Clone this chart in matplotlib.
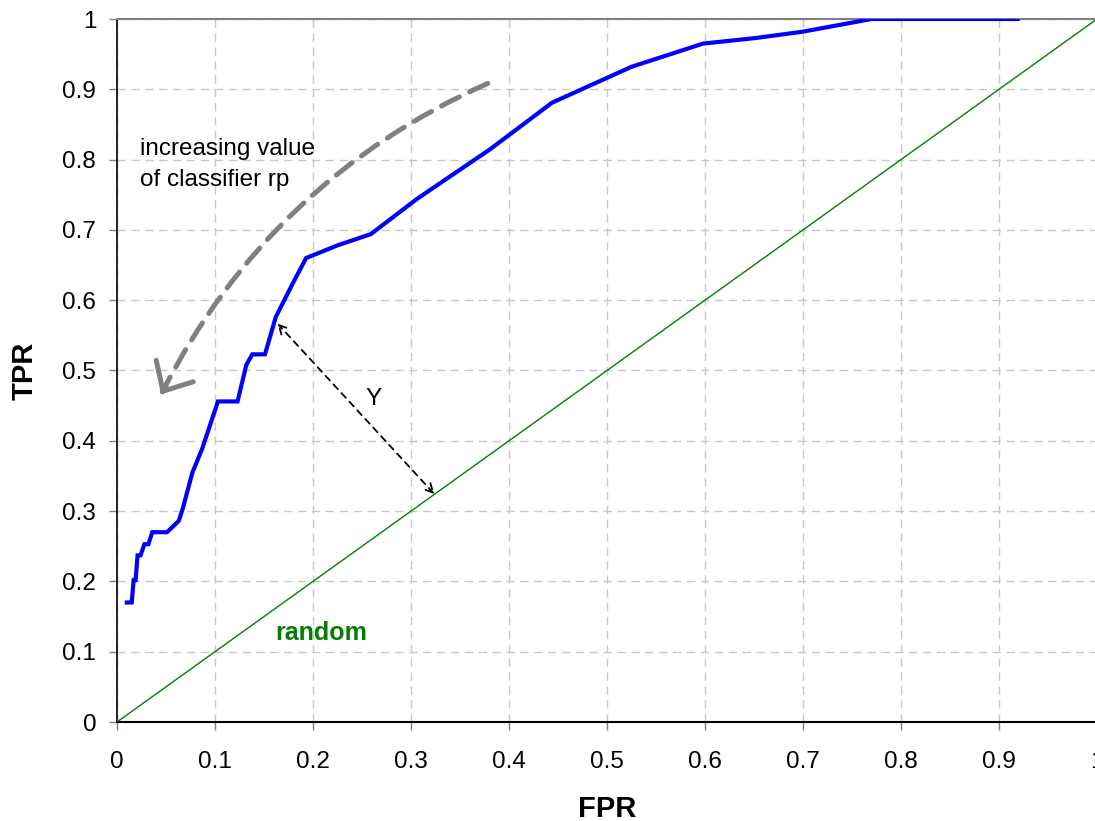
import matplotlib.pyplot as plt
from matplotlib.patches import FancyArrowPatch

plt.rcParams['font.family'] = ['Liberation Sans', 'DejaVu Sans']

# ROC curve of the classifier
fpr = [0.010, 0.015, 0.017, 0.019, 0.021, 0.024, 0.028, 0.032, 0.036, 0.051,
       0.063, 0.067, 0.077, 0.087, 0.103, 0.123, 0.132, 0.138, 0.151, 0.162,
       0.179, 0.193, 0.225, 0.259, 0.306, 0.381, 0.444, 0.525, 0.598, 0.652,
       0.700, 0.770, 0.919]
tpr = [0.170, 0.170, 0.202, 0.202, 0.237, 0.237, 0.253, 0.253, 0.270, 0.270,
       0.286, 0.303, 0.355, 0.389, 0.456, 0.456, 0.508, 0.523, 0.523, 0.576,
       0.623, 0.660, 0.678, 0.694, 0.744, 0.815, 0.881, 0.932, 0.965, 0.973,
       0.982, 1.000, 1.000]

# random classifier diagonal
random_fpr = [0, 1]
random_tpr = [0, 1]

ticks = [0, 0.1, 0.2, 0.3, 0.4, 0.5, 0.6, 0.7, 0.8, 0.9, 1]
tick_labels = ['0', '0.1', '0.2', '0.3', '0.4', '0.5', '0.6', '0.7', '0.8', '0.9', '1']

fig = plt.figure(figsize=(10.95, 8.21), dpi=100)
ax = fig.add_axes([117 / 1095, 99 / 821, 980 / 1095, 703 / 821])

ax.plot(random_fpr, random_tpr, color='#008000', linewidth=1.0, zorder=3)
ax.plot(fpr, tpr, color='#0000ff', linewidth=3.0, solid_joinstyle='miter', zorder=4)

ax.set_xlim(0, 1)
ax.set_ylim(0, 1)
ax.set_xticks(ticks)
ax.set_xticklabels(tick_labels)
ax.set_yticks(ticks)
ax.set_yticklabels(tick_labels)
ax.tick_params(axis='x', direction='out', length=6, width=1, color='#808080',
               labelsize=17.5, pad=15)
ax.tick_params(axis='y', direction='out', length=6, width=1, color='#808080',
               labelsize=17.5, pad=9)

ax.grid(True, color='#c8c8c8', linestyle=(0, (6, 4)), linewidth=1.0)
ax.set_axisbelow(True)

ax.spines['left'].set_color('black')
ax.spines['left'].set_linewidth(1.2)
ax.spines['bottom'].set_color('black')
ax.spines['bottom'].set_linewidth(1.5)
ax.spines['top'].set_color('#808080')
ax.spines['top'].set_linewidth(1.5)
ax.spines['right'].set_visible(False)

ax.set_xlabel('FPR', fontsize=21, fontweight='bold')
ax.set_ylabel('TPR', fontsize=21, fontweight='bold')
ax.xaxis.set_label_coords(0.5, -0.104)
ax.yaxis.set_label_coords(-0.08, 0.5)

# curved grey arrow: increasing value of classifier
tip = (0.045, 0.466)
ax.add_patch(FancyArrowPatch((0.381, 0.91), tip, arrowstyle='-',
                             connectionstyle='arc3,rad=0.18',
                             color='#808080', linewidth=3.6,
                             linestyle=(0, (4, 2.3)), zorder=5))
ax.add_patch(FancyArrowPatch((0.050, 0.478), tip,
                             arrowstyle='->,head_length=0.6,head_width=0.55',
                             mutation_scale=28, color='#808080', linewidth=3.6,
                             shrinkA=0, shrinkB=0, zorder=5))
ax.text(0.0235, 0.793, 'increasing value\nof classifier rp', fontsize=17.5,
        ha='left', va='center', linespacing=1.5)

# distance Y between the curve and the diagonal
ax.annotate('', xy=(0.1636, 0.567), xytext=(0.324, 0.324),
            arrowprops=dict(arrowstyle='<->', linestyle=(0, (3.5, 3)),
                            color='black', linewidth=1.3,
                            shrinkA=0, shrinkB=0, mutation_scale=16))
ax.text(0.262, 0.46, 'Y', fontsize=17.5, ha='center', va='center')

ax.text(0.1616, 0.117, 'random', fontsize=18, fontweight='bold',
        color='#008000', ha='left', va='baseline')

fig.savefig('out.png', dpi=100)
